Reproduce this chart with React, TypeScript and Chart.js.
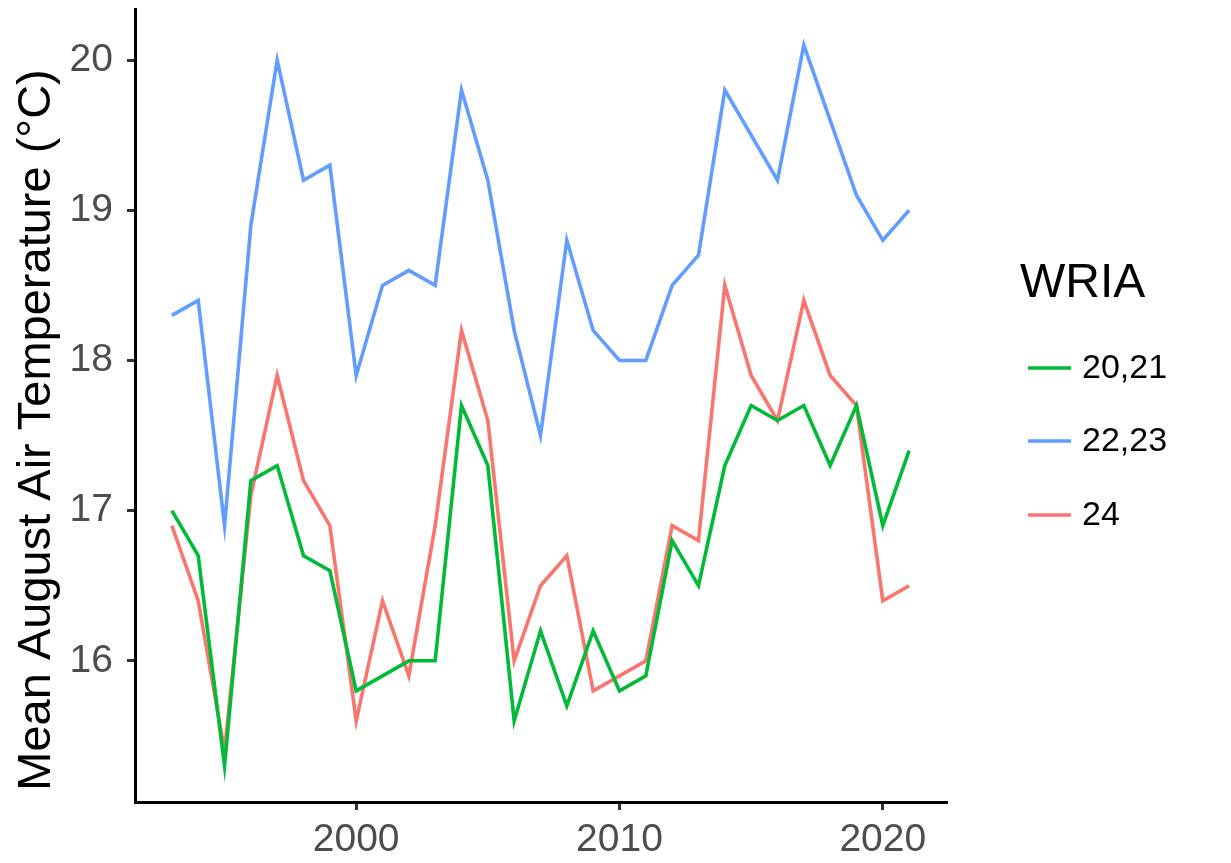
import React, { useEffect, useRef } from "react";
import { Chart, registerables } from "chart.js";

Chart.register(...registerables);

const years = [1993, 1994, 1995, 1996, 1997, 1998, 1999, 2000, 2001, 2002, 2003, 2004, 2005, 2006, 2007, 2008, 2009, 2010, 2011, 2012, 2013, 2014, 2015, 2016, 2017, 2018, 2019, 2020, 2021];
const wria2021 = [17.0, 16.7, 15.3, 17.2, 17.3, 16.7, 16.6, 15.8, 15.9, 16.0, 16.0, 17.7, 17.3, 15.6, 16.2, 15.7, 16.2, 15.8, 15.9, 16.8, 16.5, 17.3, 17.7, 17.6, 17.7, 17.3, 17.7, 16.9, 17.4];
const wria2223 = [18.3, 18.4, 16.9, 18.9, 20.0, 19.2, 19.3, 17.9, 18.5, 18.6, 18.5, 19.8, 19.2, 18.2, 17.5, 18.8, 18.2, 18.0, 18.0, 18.5, 18.7, 19.8, 19.5, 19.2, 20.1, 19.6, 19.1, 18.8, 19.0];
const wria24 = [16.9, 16.4, 15.4, 17.1, 17.9, 17.2, 16.9, 15.6, 16.4, 15.9, 16.9, 18.2, 17.6, 16.0, 16.5, 16.7, 15.8, 15.9, 16.0, 16.9, 16.8, 18.5, 17.9, 17.6, 18.4, 17.9, 17.7, 16.4, 16.5];
const xTicks = [2000, 2010, 2020];
const yTicks = [16, 17, 18, 19, 20];
const seriesNames = ["20,21", "22,23", "24"];
const seriesColors = ["#00BA38", "#619CFF", "#F8766D"];
const legendTitle = "WRIA";
const yTitle = "Mean August Air Temperature (°C)";

const FONT = "'Liberation Sans', Arial, sans-serif";

export default function App() {
  const ref = useRef<HTMLCanvasElement>(null);
  useEffect(() => {
    if (!ref.current) return;
    const mk = (vals: number[]) => years.map((y, i) => ({ x: y, y: vals[i] }));
    const allSeries = [wria2021, wria2223, wria24];
    const legendPlugin = {
      id: "customLegend",
      afterDraw(chart: any) {
        const ctx = chart.ctx;
        ctx.save();
        ctx.fillStyle = "#000";
        ctx.font = `48px ${FONT}`;
        ctx.textBaseline = "middle";
        ctx.textAlign = "left";
        ctx.fillText(legendTitle, 1020, 284);
        const ys = [368, 441, 515];
        ctx.font = `34px ${FONT}`;
        seriesNames.forEach((n, i) => {
          ctx.strokeStyle = seriesColors[i];
          ctx.lineWidth = 3.5;
          ctx.beginPath();
          ctx.moveTo(1028, ys[i]);
          ctx.lineTo(1071, ys[i]);
          ctx.stroke();
          ctx.fillStyle = "#000";
          ctx.fillText(n, 1082, ys[i] + 1);
        });
        // y-axis title
        ctx.translate(37, 430);
        ctx.rotate(-Math.PI / 2);
        ctx.textAlign = "center";
        ctx.textBaseline = "middle";
        ctx.font = `47px ${FONT}`;
        ctx.fillStyle = "#000";
        ctx.fillText(yTitle, 0, 0);
        ctx.restore();
      },
    };
    const chart = new Chart(ref.current, {
      type: "line",
      data: {
        datasets: allSeries.map((vals, i) => ({
          label: seriesNames[i],
          data: mk(vals),
          borderColor: seriesColors[i],
          backgroundColor: seriesColors[i],
          borderWidth: 3.6,
          pointRadius: 0,
          tension: 0,
          fill: false,
        })),
      },
      options: {
        animation: false,
        responsive: false,
        maintainAspectRatio: false,
        layout: { padding: { left: 0, right: 285, top: 9, bottom: 0 } },
        plugins: { legend: { display: false }, tooltip: { enabled: false } },
        scales: {
          x: {
            type: "linear",
            min: 1991.6,
            max: 2022.4,
            afterBuildTicks: (s: any) => {
              s.ticks = xTicks.map((v) => ({ value: v }));
            },
            afterFit: (s: any) => {
              s.height = 61;
              s.paddingLeft = 0;
              s.paddingRight = 0;
            },
            border: { display: true, color: "#000", width: 3 },
            grid: { display: true, drawOnChartArea: false, drawTicks: true, tickLength: 8, color: "#333", lineWidth: 3 },
            ticks: { color: "#4D4D4D", font: { family: FONT, size: 39 }, padding: 7, maxRotation: 0, autoSkip: false, callback: (v: any) => String(v) },
          },
          y: {
            type: "linear",
            min: 15.06,
            max: 20.34,
            afterBuildTicks: (s: any) => {
              s.ticks = yTicks.map((v) => ({ value: v }));
            },
            afterFit: (s: any) => {
              s.width = 135;
              s.paddingTop = 0;
              s.paddingBottom = 0;
            },
            border: { display: true, color: "#000", width: 3 },
            grid: { display: true, drawOnChartArea: false, drawTicks: true, tickLength: 8, color: "#333", lineWidth: 3 },
            ticks: { color: "#4D4D4D", font: { family: FONT, size: 39 }, padding: 14, autoSkip: false, callback: (v: any) => String(v) },
            title: { display: false, text: yTitle },
          },
        },
      },
      plugins: [legendPlugin],
    });
    return () => chart.destroy();
  }, []);
  return (
    <div style={{ position: "absolute", left: 0, top: 0, width: 1231, height: 863, background: "#fff" }}>
      <canvas ref={ref} width={1231} height={863} />
    </div>
  );
}
